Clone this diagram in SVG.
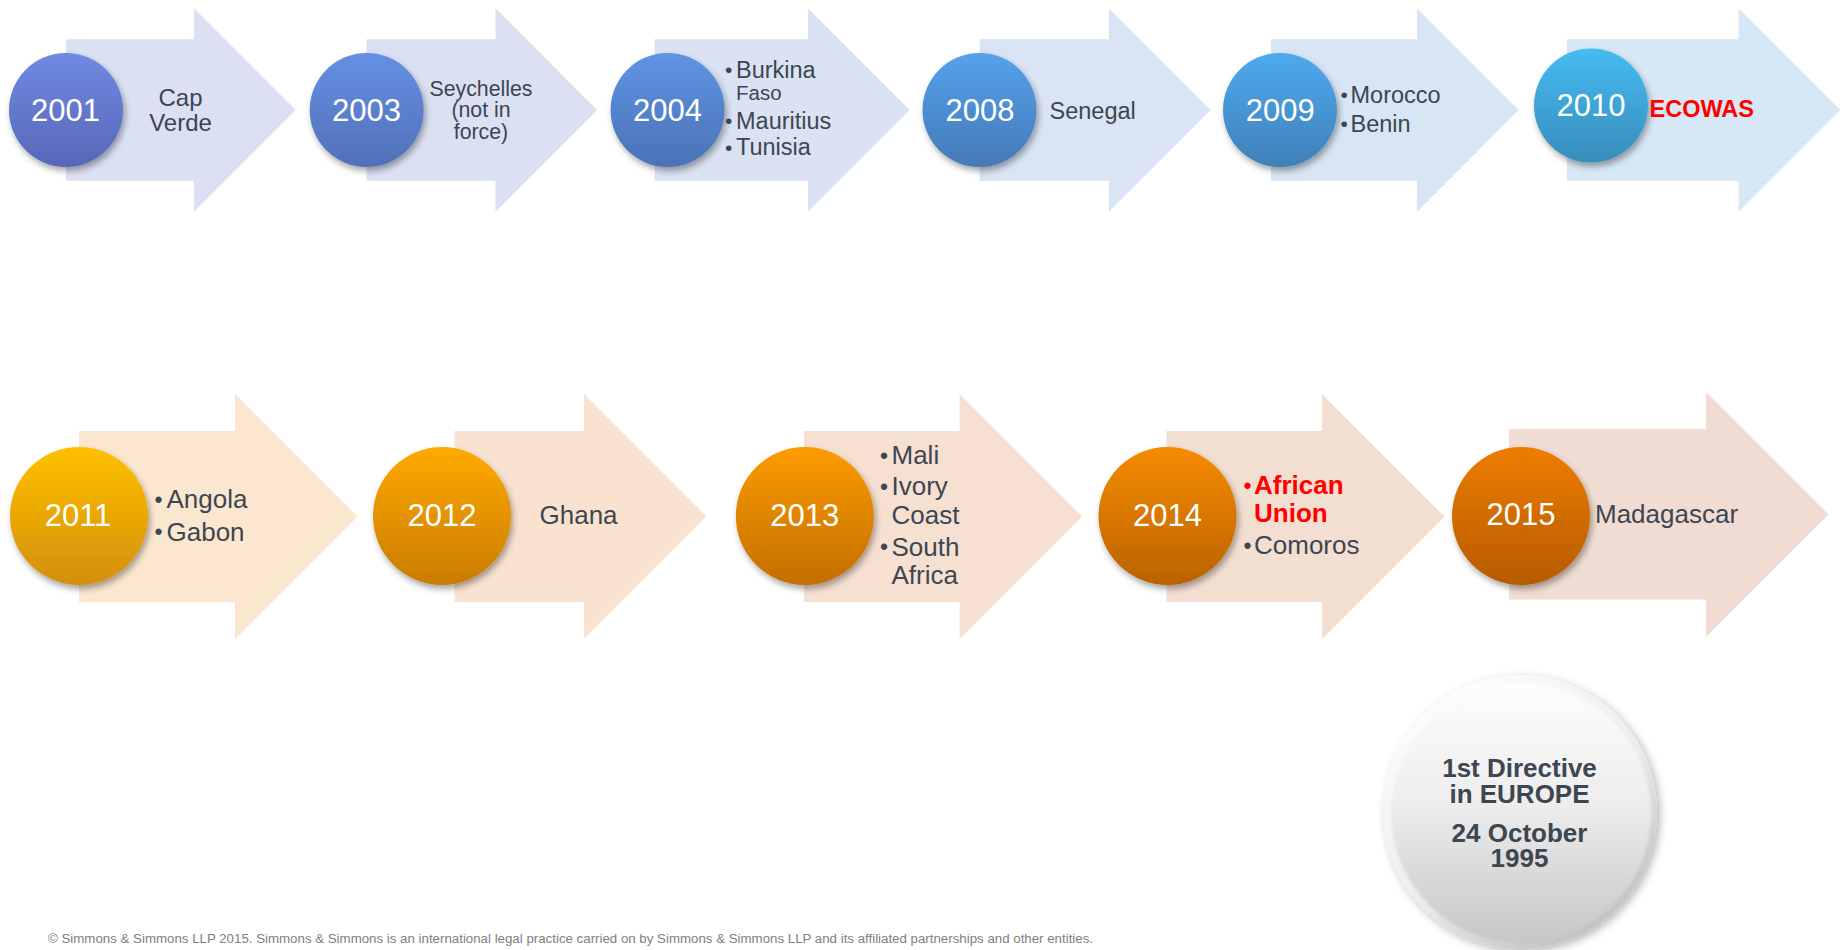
<svg xmlns="http://www.w3.org/2000/svg" width="1846" height="950" viewBox="0 0 1846 950">
  <defs>
    <style>
      text { font-family: "Liberation Sans", Arial, sans-serif; }
      .yr { fill: #ffffff; font-size: 31px; text-anchor: middle; }
      .lb1 { fill: #3d4651; font-size: 23.5px; }
      .lb2 { fill: #3d4651; font-size: 26px; }
      .b1 { fill: #3d4651; font-size: 21px; }
      .b2 { fill: #3d4651; font-size: 23px; }
      .red { fill: #ff0000; font-weight: bold; }
      .mid { text-anchor: middle; }
      .badge { fill: #3d4651; font-size: 26px; font-weight: bold; text-anchor: middle; }
      .foot { fill: #808080; font-size: 12.5px; }
    </style>
    <filter id="shadow" x="-30%" y="-30%" width="160%" height="160%">
      <feDropShadow dx="2" dy="4" stdDeviation="3" flood-color="#000000" flood-opacity="0.35"/>
    </filter>
    <filter id="badgeShadow" x="-20%" y="-20%" width="140%" height="140%">
      <feDropShadow dx="3" dy="3" stdDeviation="4" flood-color="#000000" flood-opacity="0.28"/>
    </filter>
    <filter id="soft" x="-10%" y="-10%" width="120%" height="120%">
      <feGaussianBlur stdDeviation="1.5"/>
    </filter>
    <linearGradient id="g2001" x1="0" y1="0" x2="0" y2="1"><stop offset="0" stop-color="#7089e2"/><stop offset="1" stop-color="#5767b8"/></linearGradient>
    <linearGradient id="g2003" x1="0" y1="0" x2="0" y2="1"><stop offset="0" stop-color="#6690e4"/><stop offset="1" stop-color="#5170b8"/></linearGradient>
    <linearGradient id="g2004" x1="0" y1="0" x2="0" y2="1"><stop offset="0" stop-color="#5f94e4"/><stop offset="1" stop-color="#4b72b6"/></linearGradient>
    <linearGradient id="g2008" x1="0" y1="0" x2="0" y2="1"><stop offset="0" stop-color="#55a2ec"/><stop offset="1" stop-color="#4479b6"/></linearGradient>
    <linearGradient id="g2009" x1="0" y1="0" x2="0" y2="1"><stop offset="0" stop-color="#4eaaef"/><stop offset="1" stop-color="#3f80b8"/></linearGradient>
    <linearGradient id="g2010" x1="0" y1="0" x2="0" y2="1"><stop offset="0" stop-color="#46bcf2"/><stop offset="1" stop-color="#378cba"/></linearGradient>
    <linearGradient id="g2011" x1="0" y1="0" x2="0" y2="1"><stop offset="0" stop-color="#ffc000"/><stop offset="1" stop-color="#d38f0a"/></linearGradient>
    <linearGradient id="g2012" x1="0" y1="0" x2="0" y2="1"><stop offset="0" stop-color="#ffaa00"/><stop offset="1" stop-color="#c97c02"/></linearGradient>
    <linearGradient id="g2013" x1="0" y1="0" x2="0" y2="1"><stop offset="0" stop-color="#fd9b02"/><stop offset="1" stop-color="#c26e03"/></linearGradient>
    <linearGradient id="g2014" x1="0" y1="0" x2="0" y2="1"><stop offset="0" stop-color="#f58b02"/><stop offset="1" stop-color="#bb6204"/></linearGradient>
    <linearGradient id="g2015" x1="0" y1="0" x2="0" y2="1"><stop offset="0" stop-color="#ee7d02"/><stop offset="1" stop-color="#b65b05"/></linearGradient>
    <linearGradient id="silverRim" x1="0.15" y1="0" x2="0.85" y2="1"><stop offset="0" stop-color="#ffffff"/><stop offset="0.55" stop-color="#ececec"/><stop offset="1" stop-color="#b8b8b8"/></linearGradient>
    <linearGradient id="silverFace" x1="0" y1="0" x2="0" y2="1"><stop offset="0" stop-color="#fdfdfd"/><stop offset="0.45" stop-color="#eeeeee"/><stop offset="1" stop-color="#c6c6c6"/></linearGradient>
  </defs>

  <!-- upper row: 2001 to 2010 -->
  <g id="node-2001">
    <path d="M66,39.3 H194 V8.3 L295.7,110 L194,211.7 V180.7 H66 Z" fill="#dbe0f3"/>
    <circle cx="66" cy="110" r="57" fill="url(#g2001)" filter="url(#shadow)"/>
    <text class="yr" x="65.5" y="120.5">2001</text>
    <text class="lb1 mid" x="180.5" y="106" style="font-size:24px">Cap</text>
    <text class="lb1 mid" x="180.5" y="130.5" style="font-size:24px">Verde</text>
  </g>

  <g id="node-2003">
    <path d="M366.5,39.3 H495.5 V8.3 L597.2,110 L495.5,211.7 V180.7 H366.5 Z" fill="#dbe1f3"/>
    <circle cx="366.7" cy="110" r="57" fill="url(#g2003)" filter="url(#shadow)"/>
    <text class="yr" x="366.5" y="120.5">2003</text>
    <text class="lb1 mid" x="481" y="96" style="font-size:21.3px">Seychelles</text>
    <text class="lb1 mid" x="481" y="117.3" style="font-size:21.3px">(not in</text>
    <text class="lb1 mid" x="481" y="138.6" style="font-size:21.3px">force)</text>
  </g>

  <g id="node-2004">
    <path d="M654.6,39.3 H808 V8.3 L909.7,110 L808,211.7 V180.7 H654.6 Z" fill="#dae2f3"/>
    <circle cx="667.6" cy="110" r="57" fill="url(#g2004)" filter="url(#shadow)"/>
    <text class="yr" x="667.6" y="120.5">2004</text>
    <text class="b1" x="725" y="77">•</text>
    <text class="lb1" x="736" y="77.5">Burkina</text>
    <text class="lb1" x="736" y="100" style="font-size:20.5px">Faso</text>
    <text class="b1" x="725" y="128.2">•</text>
    <text class="lb1" x="736" y="128.7">Mauritius</text>
    <text class="b1" x="725" y="154.8">•</text>
    <text class="lb1" x="736" y="155.3">Tunisia</text>
  </g>

  <g id="node-2008">
    <path d="M979.6,39.3 H1109 V8.3 L1210.7,110 L1109,211.7 V180.7 H979.6 Z" fill="#d9e4f4"/>
    <circle cx="979.5" cy="110" r="57" fill="url(#g2008)" filter="url(#shadow)"/>
    <text class="yr" x="980" y="120.5">2008</text>
    <text class="lb1" x="1049.5" y="118.5">Senegal</text>
  </g>

  <g id="node-2009">
    <path d="M1271,39.3 H1417 V8.3 L1518.7,110 L1417,211.7 V180.7 H1271 Z" fill="#d8e5f4"/>
    <circle cx="1280" cy="110" r="57" fill="url(#g2009)" filter="url(#shadow)"/>
    <text class="yr" x="1280.3" y="120.5">2009</text>
    <text class="b1" x="1340.5" y="102.2">•</text>
    <text class="lb1" x="1350.5" y="102.7">Morocco</text>
    <text class="b1" x="1340.5" y="131.2">•</text>
    <text class="lb1" x="1350.5" y="131.7">Benin</text>
  </g>

  <g id="node-2010">
    <path d="M1567,39.3 H1738.5 V8.3 L1840.2,110 L1738.5,211.7 V180.7 H1567 Z" fill="#d6e7f5"/>
    <circle cx="1591" cy="105.5" r="57" fill="url(#g2010)" filter="url(#shadow)"/>
    <text class="yr" x="1591" y="116">2010</text>
    <text class="lb1 red" x="1649.5" y="117.3">ECOWAS</text>
  </g>

  <!-- lower row: 2011 to 2015 -->
  <g id="node-2011">
    <path d="M79,431 H235 V394 L357.5,516.5 L235,639 V602 H79 Z" fill="#fbe6d0"/>
    <circle cx="79" cy="516" r="69" fill="url(#g2011)" filter="url(#shadow)"/>
    <text class="yr" x="78" y="525.7">2011</text>
    <text class="b2" x="154.5" y="507.8">•</text>
    <text class="lb2" x="166.5" y="508.3">Angola</text>
    <text class="b2" x="154.5" y="540.2">•</text>
    <text class="lb2" x="166.5" y="540.7">Gabon</text>
  </g>

  <g id="node-2012">
    <path d="M454.5,431 H584 V394 L706.5,516.5 L584,639 V602 H454.5 Z" fill="#f9e3d0"/>
    <circle cx="442" cy="516" r="69" fill="url(#g2012)" filter="url(#shadow)"/>
    <text class="yr" x="442" y="525.7">2012</text>
    <text class="lb2" x="539.5" y="524.3">Ghana</text>
  </g>

  <g id="node-2013">
    <path d="M804,431 H959.7 V394 L1082.2,516.5 L959.7,639 V602 H804 Z" fill="#f6e0d1"/>
    <circle cx="804.8" cy="516" r="69" fill="url(#g2013)" filter="url(#shadow)"/>
    <text class="yr" x="804.8" y="525.7">2013</text>
    <text class="b2" x="880" y="463.8">•</text>
    <text class="lb2" x="891.5" y="464.3">Mali</text>
    <text class="b2" x="880" y="494.5">•</text>
    <text class="lb2" x="891.5" y="495">Ivory</text>
    <text class="lb2" x="891.5" y="524">Coast</text>
    <text class="b2" x="880" y="555.2">•</text>
    <text class="lb2" x="891.5" y="555.7">South</text>
    <text class="lb2" x="891.5" y="584">Africa</text>
  </g>

  <g id="node-2014">
    <path d="M1166.5,431 H1322 V394 L1444.5,516.5 L1322,639 V602 H1166.5 Z" fill="#f3ded2"/>
    <circle cx="1167.5" cy="516" r="69" fill="url(#g2014)" filter="url(#shadow)"/>
    <text class="yr" x="1167.5" y="525.7">2014</text>
    <text class="b2" x="1243.5" y="493.8" style="fill:#ff0000">•</text>
    <text class="lb2 red" x="1254" y="494.3">African</text>
    <text class="lb2 red" x="1254" y="522.3">Union</text>
    <text class="b2" x="1243.5" y="553.5">•</text>
    <text class="lb2" x="1254" y="554">Comoros</text>
  </g>

  <g id="node-2015">
    <path d="M1509,429 H1706 V392 L1828.5,514.5 L1706,637 V599.5 H1509 Z" fill="#f0dcd2"/>
    <circle cx="1521" cy="516" r="69" fill="url(#g2015)" filter="url(#shadow)"/>
    <text class="yr" x="1521" y="525">2015</text>
    <text class="lb2" x="1595" y="523.3">Madagascar</text>
  </g>

  <!-- silver badge -->
  <g id="node-directive">
    <circle cx="1520" cy="812" r="137" fill="url(#silverRim)" filter="url(#badgeShadow)"/>
    <circle cx="1521" cy="813" r="130" fill="url(#silverFace)" filter="url(#soft)"/>
    <text class="badge"><tspan x="1519.5" y="777.3">1st Directive</tspan><tspan x="1519.5" y="802.7">in EUROPE</tspan></text>
    <text class="badge"><tspan x="1519.5" y="841.7">24 October</tspan><tspan x="1519.5" y="867.3">1995</tspan></text>
  </g>

  <g id="connectors"/>

  <text class="foot" x="48" y="943" textLength="1045" lengthAdjust="spacingAndGlyphs">© Simmons &amp; Simmons LLP 2015. Simmons &amp; Simmons is an international legal practice carried on by Simmons &amp; Simmons LLP and its affiliated partnerships and other entities.</text>
</svg>
